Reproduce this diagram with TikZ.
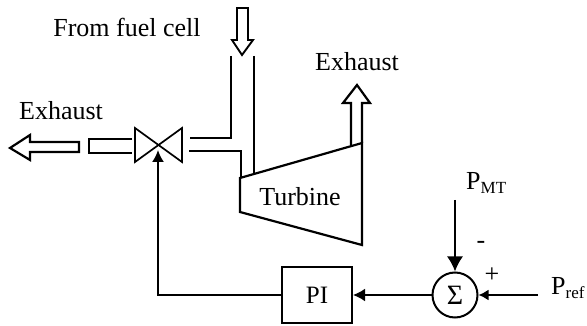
\documentclass[tikz,border=0pt]{standalone}
\usepackage{fontspec}
\setmainfont{Liberation Serif}
\usetikzlibrary{arrows.meta}
\tikzset{
  px/.style={x=1pt,y=-1pt},
  pipe/.style={line width=2.2pt,line join=miter},
  hollow/.style={line width=1.9pt,line join=miter,fill=white},
  sig/.style={line width=1.8pt},
  lbl/.style={inner sep=0pt,font=\fontsize{26}{28}\selectfont},
  block/.style={draw,line width=2pt,inner sep=0pt}
}
\newcommand{\subtxt}[1]{\raisebox{-4pt}{\fontsize{17}{18}\selectfont #1}}
\begin{document}
\begin{tikzpicture}[px]
\useasboundingbox (0,0) rectangle (587,326);
\fill[white] (0,0) rectangle (587,326);
% labels
\node[lbl] (from) at (127,27) {From fuel cell};
\node[lbl] (ex1) at (61,111) {Exhaust};
\node[lbl] (ex2) at (357,62) {Exhaust};
\node[lbl] (turb) at (300,197) {Turbine};
% top inlet arrow
\draw[hollow] (237,8) -- (248,8) -- (248,40) -- (253,40) -- (242,55) -- (232,40) -- (237,40) -- cycle;
% pipes
\draw[pipe] (231,56) -- (231,138) -- (190,138);
\draw[pipe] (254,56) -- (254,173);
\draw[pipe] (189,151) -- (241,151) -- (241,178);
% turbine
\coordinate (tA) at (240,178);
\coordinate (tB) at (362,143);
\coordinate (tC) at (362,245);
\coordinate (tD) at (240,212);
\draw[pipe] (tA) -- (tB) -- (tC) -- (tD) -- cycle;
% exhaust up
\draw[pipe] (351,145) -- (351,103) -- (343,103) -- (357,85) -- (370,103) -- (362,103) -- (tB);
% valve
\draw[line width=1.7pt,line join=miter] (135,128) -- (182,162) -- (182,128) -- (135,162) -- cycle;
% exhaust left
\draw[pipe] (132,139) -- (89,139) -- (89,153) -- (132,153);
\draw[pipe] (79,142) -- (30,142) -- (30,135) -- (10,148) -- (30,160) -- (30,152) -- (79,152) -- cycle;
% blocks
\node[block,minimum width=70pt,minimum height=56pt] (pi) at (317,295) {\fontsize{25}{27}\selectfont PI};
\node[block,circle,minimum size=45pt] (sum) at (455,295) {\fontsize{28}{30}\selectfont Σ};
\coordinate (valve) at (158,150);
\coordinate (mt) at (455,200);
\coordinate (ref) at (538,295);
% signals
\draw[sig,-{Latex[length=12pt,width=12pt]}] (pi.west) -| (valve);
\draw[sig,-{Latex[length=12pt,width=13pt]}] (sum) -- (pi);
\draw[sig,-{Latex[length=15pt,width=16pt]}] (mt) -- (sum.north);
\draw[sig,-{Latex[length=10pt,width=11pt]}] (ref) -- (sum.east);
\node[lbl,anchor=west] (pmt) at (466,183) {P\subtxt{MT}};
\node[lbl,anchor=west] (pref) at (551,288) {P\subtxt{ref}};
\node[lbl] (minus) at (481,245) {-};
\node[lbl] (plus) at (492,275) {+};
\end{tikzpicture}
\end{document}
